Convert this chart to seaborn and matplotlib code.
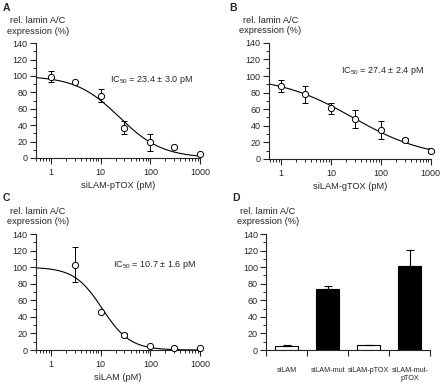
import numpy as np
import pandas as pd
import seaborn as sns
import matplotlib
matplotlib.use("Agg")
import matplotlib.pyplot as plt
from matplotlib.ticker import LogLocator, NullFormatter, MultipleLocator, FixedLocator

# panel A: siLAM-pTOX
conc_a = [1, 3, 10, 30, 100, 300, 1000]
expr_a = [99, 92, 76, 37, 19, 13, 5]
err_a = [7, 0, 8, 8, 10, 0, 0]
fit_a = dict(top=100, bottom=0, ic50=23.4, hill=1.0)

# panel B: siLAM-gTOX
conc_b = [1, 3, 10, 30, 100, 300, 1000]
expr_b = [88, 78, 61, 48, 35, 23, 10]
err_b = [7, 10, 7, 11, 11, 2, 3]
fit_b = dict(top=100, bottom=0, ic50=27.4, hill=0.58)

# panel C: siLAM
conc_c = [3, 10, 30, 100, 300, 1000]
expr_c = [103, 46, 18, 5, 3, 2]
err_c = [21, 0, 2, 0, 0, 0]
fit_c = dict(top=100, bottom=0, ic50=10.7, hill=1.55)

# panel D: bars
bar_names = ["siLAM", "siLAM-mut", "siLAM-pTOX", "siLAM-mut-\npTOX"]
bar_vals = [5, 74, 6, 101]
bar_err = [1, 3, 0.6, 20]
bar_cols = ["white", "black", "white", "black"]

sns.set_style("ticks")
plt.rcParams["font.family"] = ["Liberation Sans", "DejaVu Sans"]
plt.rcParams["mathtext.default"] = "regular"
plt.rcParams["font.size"] = 6.5
plt.rcParams["axes.linewidth"] = 0.8

fig = plt.figure(figsize=(4.4, 3.83), dpi=100)
ax_a = fig.add_axes([0.082, 0.5875, 0.373, 0.300])
ax_b = fig.add_axes([0.611, 0.585, 0.368, 0.303])
ax_c = fig.add_axes([0.082, 0.086, 0.373, 0.303])
ax_d = fig.add_axes([0.605, 0.086, 0.373, 0.303])


def hill(x, p):
    return p["bottom"] + (p["top"] - p["bottom"]) / (1 + (x / p["ic50"]) ** p["hill"])


def style_y(ax):
    ax.set_ylim(0, 140)
    ax.yaxis.set_major_locator(MultipleLocator(20))
    ax.yaxis.set_minor_locator(MultipleLocator(10))
    ax.tick_params(axis="y", which="major", length=4, width=0.8, pad=2, labelsize=6.5)
    ax.tick_params(axis="y", which="minor", length=2.5, width=0.7)
    ax.set_ylabel("")
    ax.text(0.01, 1.065, "rel. lamin A/C\nexpression (%)", transform=ax.transAxes,
            ha="center", va="bottom", fontsize=6.7, linespacing=1.25)
    sns.despine(ax=ax)


def dose_panel(ax, conc, expr, err, fit, xmin, xlabel, ic_text, tx, ty):
    xs = np.logspace(np.log10(xmin), 3, 200)
    curve = pd.DataFrame({"x": xs, "y": hill(xs, fit)})
    sns.lineplot(data=curve, x="x", y="y", ax=ax, color="black", linewidth=0.8)
    ax.errorbar(conc, expr, yerr=err, fmt="none", ecolor="black", elinewidth=0.7,
                capsize=2.2, capthick=0.7, zorder=3)
    sns.scatterplot(x=conc, y=expr, ax=ax, marker="o", s=20, facecolor="white",
                    edgecolor="black", linewidth=0.7, zorder=4, clip_on=False)
    ax.set_xscale("log")
    ax.set_xlim(xmin, 1000)
    ax.xaxis.set_major_locator(FixedLocator([1, 10, 100, 1000]))
    ax.set_xticklabels(["1", "10", "100", "1000"])
    ax.xaxis.set_minor_locator(LogLocator(base=10, subs=np.arange(2, 10), numticks=20))
    ax.xaxis.set_minor_formatter(NullFormatter())
    ax.tick_params(axis="x", which="major", length=4, width=0.8, pad=3, labelsize=6.5)
    ax.tick_params(axis="x", which="minor", length=2.5, width=0.7)
    ax.set_xlabel(xlabel, fontsize=6.7, labelpad=3)
    ax.text(tx, ty, ic_text, ha="left", va="center", fontsize=6.5)
    style_y(ax)


dose_panel(ax_a, conc_a, expr_a, err_a, fit_a, 0.5, "siLAM-pTOX (pM)",
           r"IC$_{50}$ = 23.4 ± 3.0 pM", 15, 95)
dose_panel(ax_b, conc_b, expr_b, err_b, fit_b, 0.57, "siLAM-gTOX (pM)",
           r"IC$_{50}$ = 27.4 ± 2.4 pM", 16, 106)
dose_panel(ax_c, conc_c, expr_c, err_c, fit_c, 0.5, "siLAM (pM)",
           r"IC$_{50}$ = 10.7 ± 1.6 pM", 17.5, 103)

# bar panel
bars = pd.DataFrame({"name": bar_names, "val": bar_vals})
sns.barplot(data=bars, x="name", y="val", hue="name", palette=bar_cols, ax=ax_d,
            edgecolor="black", linewidth=0.8, width=0.56, legend=False, saturation=1)
ax_d.errorbar(range(len(bar_vals)), bar_vals, yerr=[[0] * len(bar_err), bar_err],
              fmt="none", ecolor="black", elinewidth=0.8, capsize=3, capthick=0.8)
ax_d.set_xlim(-0.5, 3.5)
ax_d.xaxis.set_major_locator(FixedLocator([-0.5, 0.5, 1.5, 2.5, 3.5]))
ax_d.xaxis.set_minor_locator(FixedLocator([0, 1, 2, 3]))
ax_d.set_xticklabels([""] * 5)
ax_d.set_xticklabels(bar_names, minor=True)
ax_d.tick_params(axis="x", which="major", length=4, width=0.8)
ax_d.tick_params(axis="x", which="minor", length=0, pad=12, labelsize=5.2)
ax_d.set_xlabel("")
style_y(ax_d)

for lab, x, y in [("A", 0.007, 0.993), ("B", 0.522, 0.993),
                  ("C", 0.007, 0.495), ("D", 0.527, 0.495)]:
    fig.text(x, y, lab, fontsize=7.5, fontweight="bold", ha="left", va="top")

fig.savefig("out.png", dpi=100)
